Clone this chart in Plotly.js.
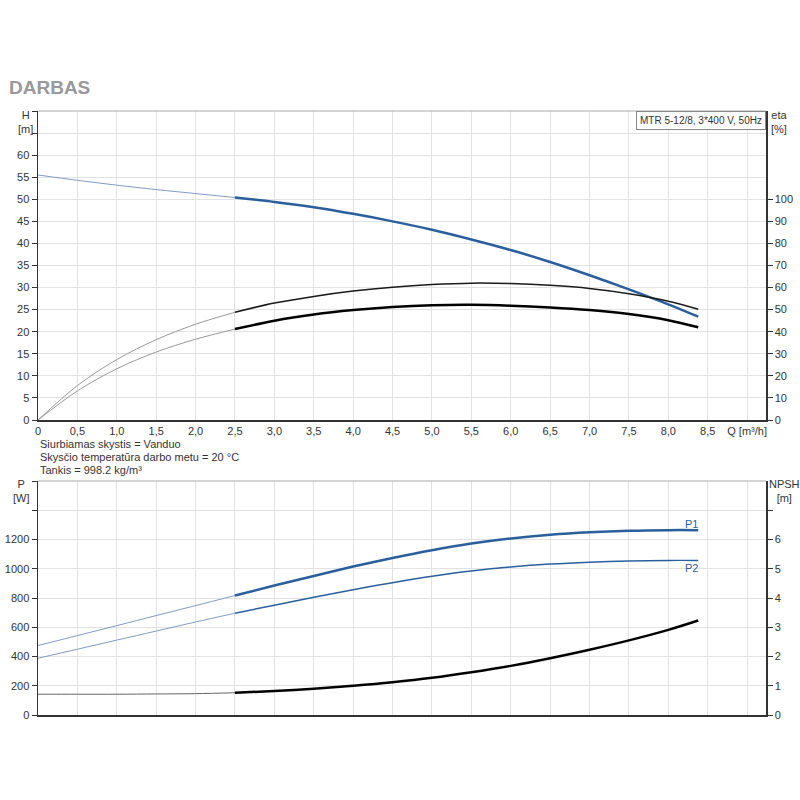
<!DOCTYPE html>
<html><head><meta charset="utf-8">
<script src="https://cdn.plot.ly/plotly-3.0.1.min.js"></script>
<style>html,body{margin:0;padding:0;background:#fff}#c{width:800px;height:800px}</style>
</head><body><div id="c"></div>
<script>
// Flow values [m³/h]
const Q = [0, 0.5, 1.0, 1.5, 2.0, 2.5, 3.0, 3.5, 4.0, 4.5, 5.0, 5.5, 6.0, 6.5, 7.0, 7.5, 8.0, 8.38];
// Head H [m]
const H = [55.5, 54.3, 53.2, 52.2, 51.3, 50.4, 49.4, 48.2, 46.7, 45.0, 43.1, 40.9, 38.5, 35.8, 32.8, 29.6, 26.2, 23.4];
// Efficiencies [%]
const etaPump = [0, 15.6, 27.4, 36.4, 43.4, 48.8, 53.0, 56.0, 58.4, 60.2, 61.4, 62.0, 61.8, 61.0, 59.6, 57.2, 53.8, 50.2];
const etaTotal = [0, 13.2, 23.2, 30.8, 36.6, 41.2, 45.0, 47.8, 49.8, 51.2, 52.0, 52.2, 51.8, 51.0, 49.8, 48.0, 45.2, 42.0];
// Power [W]
const P1 = [475, 543, 611, 680, 748, 817, 885, 951, 1015, 1074, 1127, 1172, 1207, 1233, 1250, 1260, 1264, 1264];
const P2 = [388, 450, 512, 574, 636, 696, 751, 805, 857, 905, 948, 984, 1012, 1032, 1045, 1053, 1057, 1057];
// NPSH [m]
const NPSH = [0.71, 0.71, 0.71, 0.72, 0.73, 0.76, 0.82, 0.90, 1.00, 1.12, 1.27, 1.46, 1.68, 1.94, 2.23, 2.55, 2.91, 3.23];

const xTickVals = [0,0.5,1,1.5,2,2.5,3,3.5,4,4.5,5,5.5,6,6.5,7,7.5,8,8.5,9];
const xTickText = ['0','0,5','1,0','1,5','2,0','2,5','3,0','3,5','4,0','4,5','5,0','5,5','6,0','6,5','7,0','7,5','8,0','8,5','Q [m³/h]'];
const hTickVals = [0,5,10,15,20,25,30,35,40,45,50,55,60,65,70];
const hTickText = ['0','5','10','15','20','25','30','35','40','45','50','55','60','',''];
const etaTickVals = [0,10,20,30,40,50,60,70,80,90,100];
const pTickVals = [0,200,400,600,800,1000,1200,1400,1600];
const pTickText = ['0','200','400','600','800','1000','1200','',''];
const npshTickVals = [0,1,2,3,4,5,6,7];
const npshTickText = ['0','1','2','3','4','5','6',''];

const split = 5; // index of Q = 2.5
const lo = a => a.slice(0, split + 1);
const hi = a => a.slice(split);

function tr(x, y, xa, ya, color, width) {
  return {x: x, y: y, xaxis: xa, yaxis: ya, type: 'scatter', mode: 'lines',
    line: {color: color, width: width, shape: 'spline', smoothing: 0.9}, hoverinfo: 'skip', showlegend: false};
}
const BLUE = '#2a5f9e', BLUE_L = '#7f9cc6', GRAY = '#9a9a9a';
const data = [
  tr(lo(Q), lo(H), 'x', 'y', BLUE_L, 1),
  tr(hi(Q), hi(H), 'x', 'y', BLUE, 2.5),
  tr(lo(Q), lo(etaPump), 'x', 'y2', GRAY, 1),
  tr(hi(Q), hi(etaPump), 'x', 'y2', '#1a1a1a', 1.5),
  tr(lo(Q), lo(etaTotal), 'x', 'y2', GRAY, 1),
  tr(hi(Q), hi(etaTotal), 'x', 'y2', '#000', 2.5),
  tr(lo(Q), lo(P1), 'x2', 'y3', BLUE_L, 1),
  tr(hi(Q), hi(P1), 'x2', 'y3', BLUE, 2.5),
  tr(lo(Q), lo(P2), 'x2', 'y3', BLUE_L, 1),
  tr(hi(Q), hi(P2), 'x2', 'y3', BLUE, 1.5),
  tr(lo(Q), lo(NPSH), 'x2', 'y4', '#666', 1),
  tr(hi(Q), hi(NPSH), 'x2', 'y4', '#000', 2.5)
];

const F = {family: 'Liberation Sans, Arial, sans-serif', size: 11, color: '#333'};
const XD = [38/800, 766/800];
const xCommon = {domain: XD, range: [0, 9.24], tickvals: xTickVals, showgrid: true, gridcolor: '#e2e2e2', gridwidth: 1,
  zeroline: false, showline: true, linecolor: '#333', linewidth: 1.5, ticks: '', fixedrange: true, tickfont: F};
const yCommon = {showgrid: true, gridcolor: '#e2e2e2', gridwidth: 1, zeroline: false, showline: true,
  linecolor: '#333', linewidth: 1.5, ticks: 'outside', ticklen: 5, tickcolor: '#333', tickfont: F};

function ann(text, xpx, ypx, opts) {
  return Object.assign({text: text, xref: 'paper', yref: 'paper', x: xpx / 800, y: 1 - ypx / 800,
    showarrow: false, font: F, xanchor: 'center', yanchor: 'middle'}, opts || {});
}

const layout = {
  width: 800, height: 800, margin: {l: 0, r: 0, t: 0, b: 0},
  paper_bgcolor: '#fff', plot_bgcolor: '#fff', showlegend: false, font: F,
  xaxis: Object.assign({}, xCommon, {anchor: 'y', ticktext: xTickText, showticklabels: true}),
  xaxis2: Object.assign({}, xCommon, {anchor: 'y3', showticklabels: false}),
  yaxis: Object.assign({}, yCommon, {domain: [1 - 420/800, 1 - 111/800], range: [0, 70], tickvals: hTickVals, ticktext: hTickText, anchor: 'x'}),
  yaxis2: Object.assign({}, yCommon, {overlaying: 'y', side: 'right', range: [0, 140], tickvals: etaTickVals, showgrid: false, anchor: 'x'}),
  yaxis3: Object.assign({}, yCommon, {domain: [1 - 715/800, 1 - 481/800], range: [0, 1600], tickvals: pTickVals, ticktext: pTickText, anchor: 'x2'}),
  yaxis4: Object.assign({}, yCommon, {overlaying: 'y3', side: 'right', range: [0, 8], tickvals: npshTickVals, ticktext: npshTickText, showgrid: false, anchor: 'x2'}),
  shapes: [
    {type: 'line', xref: 'paper', yref: 'paper', x0: XD[0], x1: XD[1], y0: 1 - 111/800, y1: 1 - 111/800, line: {color: '#aaa', width: 1}},
    {type: 'line', xref: 'paper', yref: 'paper', x0: XD[0], x1: XD[1], y0: 1 - 481/800, y1: 1 - 481/800, line: {color: '#aaa', width: 1}}
  ],
  annotations: [
    ann('<b>DARBAS</b>', 7, 88, {xanchor: 'left', font: {family: 'Liberation Sans, Arial, sans-serif', size: 19, color: '#999'}}),
    ann('H<br>[m]', 25, 122),
    ann('eta<br>[%]', 779, 122),
    ann('P<br>[W]', 21, 491),
    ann('NPSH<br>[m]', 784, 491),
    ann('MTR 5-12/8, 3*400 V, 50Hz', 766, 120, {xanchor: 'right', font: Object.assign({}, F, {size: 10}), bordercolor: '#888', borderwidth: 1, borderpad: 3, bgcolor: '#fff'}),
    ann('Siurbiamas skystis = Vanduo', 38, 444, {xanchor: 'left'}),
    ann('Skysčio temperatūra darbo metu = 20 °C', 38, 457, {xanchor: 'left'}),
    ann('Tankis = 998.2 kg/m³', 38, 470, {xanchor: 'left'}),
    ann('P1', 691, 524, {font: Object.assign({}, F, {color: BLUE})}),
    ann('P2', 691, 568, {font: Object.assign({}, F, {color: BLUE})})
  ]
};
Plotly.newPlot('c', data, layout, {staticPlot: true, displayModeBar: false});
</script></body></html>
